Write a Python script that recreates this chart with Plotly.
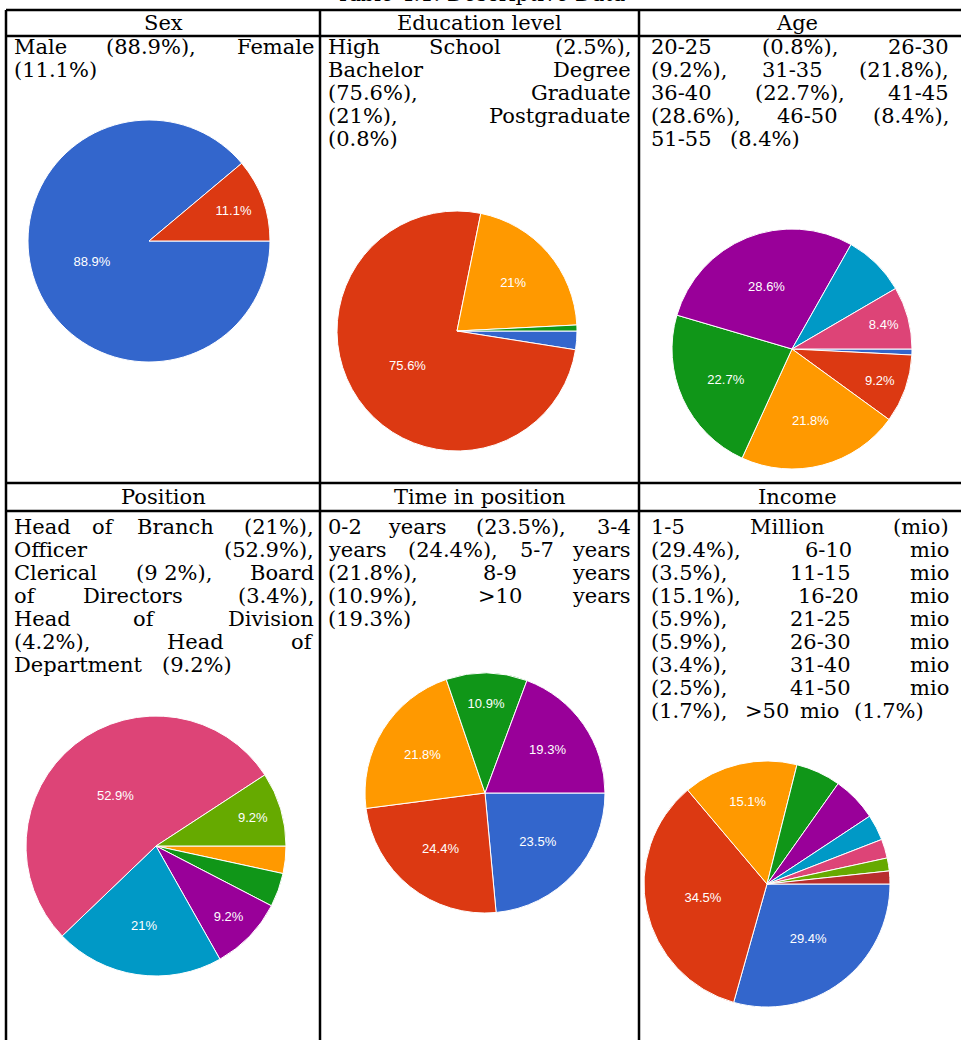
import plotly.graph_objects as go

# ---------------- data ----------------
title_text = "Table 4.1. Descriptive Data"
headers = ["Sex", "Education level", "Age", "Position", "Time in position", "Income"]

sex_labels = ["Male", "Female"]
sex_values = [88.9, 11.1]
sex_show = [True, True]

edu_labels = ["High School", "Bachelor Degree", "Graduate", "Postgraduate"]
edu_values = [2.5, 75.6, 21.0, 0.8]
edu_show = [False, True, True, False]

age_labels = ["20-25", "26-30", "31-35", "36-40", "41-45", "46-50", "51-55"]
age_values = [0.8, 9.2, 21.8, 22.7, 28.6, 8.4, 8.4]
age_show = [False, True, True, True, True, False, True]

pos_labels = ["Board of Directors", "Head of Division", "Head of Department",
              "Head of Branch", "Officer", "Clerical"]
pos_values = [3.4, 4.2, 9.2, 21.0, 52.9, 9.2]
pos_show = [False, False, True, True, True, True]

time_labels = ["0-2 years", "3-4 years", "5-7 years", "8-9 years", ">10 years"]
time_values = [23.5, 24.4, 21.8, 10.9, 19.3]
time_show = [True, True, True, True, True]

inc_labels = ["1-5 mio", "6-10 mio", "11-15 mio", "16-20 mio", "21-25 mio",
              "26-30 mio", "31-40 mio", "41-50 mio", ">50 mio"]
inc_values = [29.4, 34.5, 15.1, 5.9, 5.9, 3.4, 2.5, 1.7, 1.7]
inc_show = [True, True, True, False, False, False, False, False, False]

sex_lines = ["Male (88.9%), Female", "(11.1%)"]
edu_lines = ["High School (2.5%),", "Bachelor Degree", "(75.6%), Graduate",
             "(21%), Postgraduate", "(0.8%)"]
age_lines = ["20-25 (0.8%), 26-30", "(9.2%), 31-35 (21.8%),", "36-40 (22.7%), 41-45",
             "(28.6%), 46-50 (8.4%),", "51-55 (8.4%)"]
pos_lines = ["Head of Branch (21%),", "Officer (52.9%),", "Clerical (9\u00a02%), Board",
             "of Directors (3.4%),", "Head of Division", "(4.2%), Head of",
             "Department (9.2%)"]
time_lines = ["0-2 years (23.5%), 3-4", "years (24.4%), 5-7 years", "(21.8%), 8-9 years",
              "(10.9%), >10 years", "(19.3%)"]
inc_lines = ["1-5 Million (mio)", "(29.4%), 6-10 mio", "(3.5%), 11-15 mio",
             "(15.1%), 16-20 mio", "(5.9%), 21-25 mio", "(5.9%), 26-30 mio",
             "(3.4%), 31-40 mio", "(2.5%), 41-50 mio", "(1.7%), >50 mio (1.7%)"]

# ---------------- style / layout ----------------
W, H = 961, 1040
BLUE, RED, ORANGE, GREEN, PURPLE = "#3366CC", "#DC3912", "#FF9900", "#109618", "#990099"
TEAL, PINK, LGREEN, DRED = "#0099C6", "#DD4477", "#66AA00", "#B82E2E"

FSX = 29           # horizontal metric size (the source text is stretched sideways)
FS = 21            # rendered font size (px)
LS = 23            # line spacing (px)
SERIF = "DejaVu Serif, Liberation Serif, serif"

# Times metrics (per 1000 em) used for the stretched justified layout
_w = {' ': 250, '\u00a0': 250, '(': 333, ')': 333, '%': 833, '.': 250, ',': 250,
      '-': 333, '>': 564}
for d in "0123456789":
    _w[d] = 500
_w.update(dict(A=722, B=667, C=667, D=722, E=611, F=556, G=722, H=722, I=333, J=389,
               K=722, L=611, M=889, N=722, O=722, P=556, Q=722, R=667, S=556, T=611,
               U=722, V=722, W=944, X=722, Y=722, Z=611,
               a=444, b=500, c=444, d=500, e=444, f=333, g=500, h=500, i=278, j=278,
               k=500, l=278, m=778, n=500, o=500, p=500, q=500, r=333, s=389, t=278,
               u=500, v=500, w=722, x=500, y=500, z=444))


def tw(s):
    return sum(_w.get(ch, 500) for ch in s) * FSX / 1000.0


def px(x):
    return x / W


def py(y):
    return 1 - y / H


annotations = []


def add_text(x, y, txt, anchor="left", yanchor="middle"):
    annotations.append(dict(x=px(x), y=py(y), xref="paper", yref="paper", text=txt,
                            xanchor=anchor, yanchor=yanchor, showarrow=False,
                            borderpad=0, font=dict(family=SERIF, size=FS, color="black")))


def place_line(line, left, right, y, justify, yanchor="middle"):
    toks = line.split(" ")
    widths = [tw(t) for t in toks]
    if justify and len(toks) > 1:
        gap = (right - left - sum(widths)) / (len(toks) - 1)
    else:
        gap = tw(" ")
    x = left
    n = len(toks)
    for k, (t, wdt) in enumerate(zip(toks, widths)):
        t2 = t.replace("\u00a0", " ")
        if k == 0:
            add_text(x, y, t2, "left", yanchor)
        elif k == n - 1 and justify:
            add_text(x + wdt, y, t2, "right", yanchor)
        else:
            add_text(x + wdt / 2, y, t2, "center", yanchor)
        x += wdt + gap


def add_paragraph(lines, left, right, y0):
    for i, line in enumerate(lines):
        place_line(line, left, right, y0 + i * LS, justify=(i < len(lines) - 1))


# table geometry
XL, X1, X2, XR = 6, 320, 639, 975
Y_TOP, Y_H1, Y_R2, Y_H2 = 10, 36, 483, 511

shapes = []


def line(x0, y0, x1, y1):
    shapes.append(dict(type="line", xref="paper", yref="paper", x0=px(x0), y0=py(y0),
                       x1=px(x1), y1=py(y1), line=dict(color="black", width=2.5)))


for yy in (Y_TOP, Y_H1, Y_R2, Y_H2):
    line(XL, yy, XR, yy)
for xx in (XL, X1, X2):
    line(xx, Y_TOP, xx, H + 5)

# title (cut off at the top edge, as in the source)
annotations.append(dict(x=px(480), y=py(7), xref="paper", yref="paper", text=title_text,
                        xanchor="center", yanchor="bottom", showarrow=False, borderpad=0,
                        font=dict(family=SERIF, size=FS, color="black")))

# headers
hdr_pos = [((XL + X1) / 2, (Y_TOP + Y_H1) / 2), ((X1 + X2) / 2, (Y_TOP + Y_H1) / 2),
           (797, (Y_TOP + Y_H1) / 2),
           ((XL + X1) / 2, (Y_R2 + Y_H2) / 2), ((X1 + X2) / 2, (Y_R2 + Y_H2) / 2),
           (797, (Y_R2 + Y_H2) / 2)]
for h, (hx, hy) in zip(headers, hdr_pos):
    add_text(hx, hy, h, "center")

# paragraphs
add_paragraph(sex_lines, 13, 315, 47)
add_paragraph(edu_lines, 327, 632, 47)
add_paragraph(age_lines, 650, 950, 47)
add_paragraph(pos_lines, 13, 315, 527)
add_paragraph(time_lines, 327, 632, 527)
add_paragraph(inc_lines, 650, 950, 527)

fig = go.Figure()


def add_pie(labels, values, show, colors, cx, cy, r):
    texts = [f"{v:g}%" if s else "" for v, s in zip(values, show)]
    fig.add_trace(go.Pie(
        labels=labels, values=values, text=texts, textinfo="text",
        textposition="inside", insidetextorientation="horizontal",
        textfont=dict(color="white", size=13, family="Liberation Sans, Arial, sans-serif"),
        marker=dict(colors=colors, line=dict(color="white", width=1)),
        sort=False, direction="clockwise", rotation=90,
        domain=dict(x=[px(cx - r), px(cx + r)], y=[py(cy + r), py(cy - r)]),
        showlegend=False, hoverinfo="skip"))


add_pie(sex_labels, sex_values, sex_show, [BLUE, RED], 149, 241, 121)
add_pie(edu_labels, edu_values, edu_show, [BLUE, RED, ORANGE, GREEN], 457, 331, 120)
add_pie(age_labels, age_values, age_show, [BLUE, RED, ORANGE, GREEN, PURPLE, TEAL, PINK],
        792, 349, 120)
add_pie(pos_labels, pos_values, pos_show, [ORANGE, GREEN, PURPLE, TEAL, PINK, LGREEN],
        156, 846, 130)
add_pie(time_labels, time_values, time_show, [BLUE, RED, ORANGE, GREEN, PURPLE],
        485, 793, 120)
add_pie(inc_labels, inc_values, inc_show,
        [BLUE, RED, ORANGE, GREEN, PURPLE, TEAL, PINK, LGREEN, DRED], 767, 884, 123)

fig.update_layout(width=W, height=H, margin=dict(l=0, r=0, t=0, b=0),
                  paper_bgcolor="white", plot_bgcolor="white",
                  annotations=annotations, shapes=shapes, showlegend=False)

fig.write_html("out.html")
